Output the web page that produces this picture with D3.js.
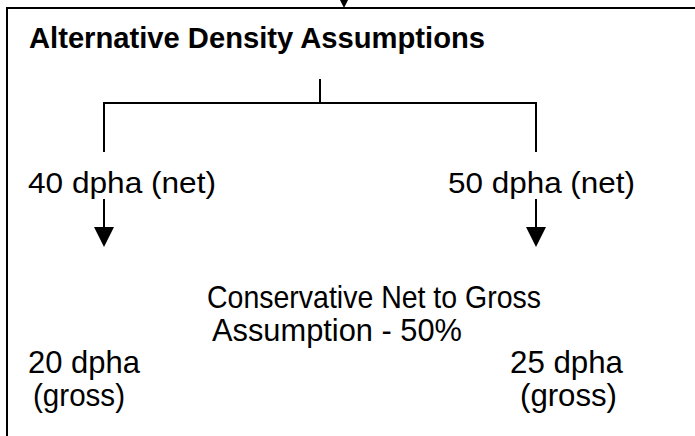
<!DOCTYPE html>
<html>
<head>
<meta charset="utf-8">
<script src="https://cdn.jsdelivr.net/npm/d3@7"></script>
<style>
  body { margin: 0; background: #fff; }
  svg { display: block; }
  text { font-family: Arial, "Liberation Sans", sans-serif; fill: #000; }
</style>
</head>
<body>
<div id="chart"></div>
<script>
// diagram content
const titleText = "Alternative Density Assumptions";
const netLabels = ["40 dpha (net)", "50 dpha (net)"];
const conversionLines = ["Conservative Net to Gross", "Assumption - 50%"];
const grossLabels = [["20 dpha", "(gross)"], ["25 dpha", "(gross)"]];

const width = 695, height = 436;

// layout (pixel positions)
const box = {left: 7, top: 8};
const branchX = [104, 536];
const stemX = 320;
const netLayout = [{x: 28, w: 188}, {x: 448, w: 187}];
const convLayout = [{x: 207, y: 308, w: 334}, {x: 212, y: 341, w: 250}];
const grossLayout = [
    [{x: 28, w: 112}, {x: 33, w: 92}],
    [{x: 510, w: 113}, {x: 520, w: 97}]
];

const svg = d3.select("#chart").append("svg")
    .attr("width", width)
    .attr("height", height);

const y = d3.scaleIdentity().domain([0, height]);
const x = d3.scaleIdentity().domain([0, width]);

function arrowHead(cx, tipY, w, h) {
    const p = d3.path();
    p.moveTo(x(cx - w / 2), y(tipY - h));
    p.lineTo(x(cx + w / 2), y(tipY - h));
    p.lineTo(x(cx), y(tipY));
    p.closePath();
    return p.toString();
}

const lines = svg.append("g")
    .attr("stroke", "#000")
    .attr("stroke-width", 2)
    .attr("fill", "none");

// outer box (only top and left edges are visible)
lines.append("path")
    .attr("d", `M${x(box.left)},${y(height)} V${y(box.top)} H${x(width)}`);

// incoming arrow at top
svg.append("path")
    .attr("d", arrowHead(344, box.top, 20, 20))
    .attr("fill", "#000");

// tree connector
lines.append("line")
    .attr("x1", x(stemX)).attr("x2", x(stemX))
    .attr("y1", y(79)).attr("y2", y(103));
lines.append("path")
    .attr("d", `M${x(branchX[0])},${y(152)} V${y(103)} H${x(branchX[1])} V${y(152)}`);

// arrows below net labels
branchX.forEach(bx => {
    lines.append("line")
        .attr("x1", x(bx)).attr("x2", x(bx))
        .attr("y1", y(199)).attr("y2", y(228));
    svg.append("path")
        .attr("d", arrowHead(bx, 247, 20, 20))
        .attr("fill", "#000");
});

// title
svg.append("text")
    .attr("x", x(29))
    .attr("y", y(48))
    .attr("font-size", 30)
    .attr("font-weight", "bold")
    .attr("textLength", 456)
    .attr("lengthAdjust", "spacingAndGlyphs")
    .text(titleText);

// net density labels
svg.selectAll(".net")
    .data(netLabels)
    .enter()
    .append("text")
    .attr("class", "net")
    .attr("x", (d, i) => x(netLayout[i].x))
    .attr("y", y(193))
    .attr("font-size", 29.5)
    .attr("textLength", (d, i) => netLayout[i].w)
    .attr("lengthAdjust", "spacingAndGlyphs")
    .text(d => d);

// net to gross assumption
svg.selectAll(".conv")
    .data(conversionLines)
    .enter()
    .append("text")
    .attr("class", "conv")
    .attr("x", (d, i) => x(convLayout[i].x))
    .attr("y", (d, i) => y(convLayout[i].y))
    .attr("font-size", 30.5)
    .attr("textLength", (d, i) => convLayout[i].w)
    .attr("lengthAdjust", "spacingAndGlyphs")
    .text(d => d);

// gross density labels
const grossRows = [373, 406];
grossLabels.forEach((pair, i) => {
    svg.selectAll(".gross" + i)
        .data(pair)
        .enter()
        .append("text")
        .attr("class", "gross" + i)
        .attr("x", (d, j) => x(grossLayout[i][j].x))
        .attr("y", (d, j) => y(grossRows[j]))
        .attr("font-size", 30.5)
        .attr("textLength", (d, j) => grossLayout[i][j].w)
        .attr("lengthAdjust", "spacingAndGlyphs")
        .text(d => d);
});
</script>
</body>
</html>
